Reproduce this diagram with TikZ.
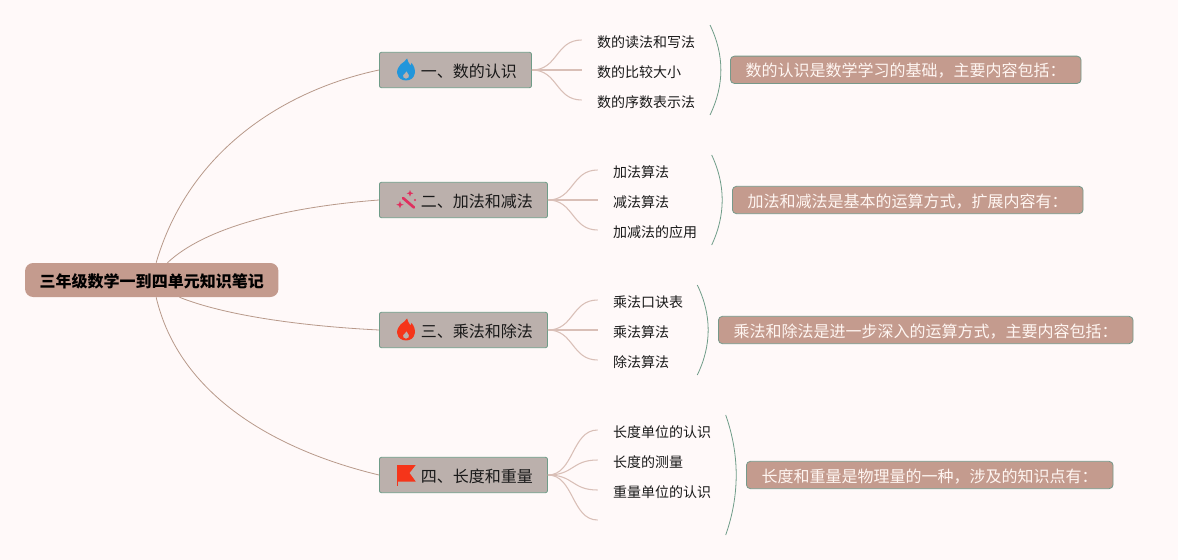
\documentclass[tikz,border=0pt]{standalone}
\usepackage{fontspec}
\setmainfont{Noto Sans CJK SC}
\definecolor{bgc}{HTML}{FFF9F9}
\definecolor{rootc}{HTML}{C49B8E}
\definecolor{topicc}{HTML}{BBB0AC}
\definecolor{edgec}{HTML}{6F9C88}
\definecolor{mainl}{HTML}{B8998A}
\definecolor{subl}{HTML}{D9BFB7}
\definecolor{calloutb}{HTML}{76998A}
\definecolor{calloutt}{HTML}{FFF6F2}
\definecolor{iconblue}{HTML}{2196DB}
\definecolor{iconred}{HTML}{F5351A}
\definecolor{iconpink}{HTML}{E0305F}
\newcommand{\topictext}[1]{\hspace*{31.1pt}#1\hspace*{11pt}}
\tikzset{
  rootnode/.style={fill=rootc,rounded corners=6pt,minimum width=190pt,minimum height=25.5pt,inner sep=0pt,text height=11pt,text depth=0.4pt,font=\fontsize{12}{14}\selectfont\bfseries},
  topic/.style={fill=topicc,draw=edgec,line width=0.6pt,rounded corners=1.5pt,anchor=west,minimum height=26.5pt,inner xsep=0pt,inner ysep=0pt,text height=11pt,text depth=0.4pt,font=\fontsize{12}{14}\selectfont,text=black!90},
  child/.style={anchor=west,inner xsep=11.5pt,inner ysep=0pt,text height=11.5pt,text depth=0.5pt,font=\fontsize{10.5}{12}\selectfont,text=black!90},
  callout/.style={fill=rootc,draw=calloutb,line width=0.6pt,rounded corners=3pt,anchor=west,minimum height=20.5pt,inner sep=0pt,text height=11pt,text depth=0.4pt,font=\fontsize{12}{14}\selectfont,text=calloutt},
  mainline/.style={draw=mainl,line width=0.6pt},
  subline/.style={draw=subl,line width=0.8pt},
  bracket/.style={draw=edgec,line width=0.6pt},
  flameicon/.pic={
    \fill[pic actions,even odd rule,scale=1.1]
      (1,-10.5) .. controls (2,-8) and (2,-6.5) .. (3.5,-5)
      .. controls (4.3,-4.2) and (5,-4.5) .. (5,-6.5)
      .. controls (7.5,-3.5) and (8.5,0) .. (8,3)
      .. controls (7.2,7.5) and (4,9.5) .. (0,9.5)
      .. controls (-4,9.5) and (-7.3,7.5) .. (-8,3)
      .. controls (-8.5,-0.5) and (-6.5,-3) .. (-5,-5)
      .. controls (-3,-7) and (0,-8) .. (1,-10.5) -- cycle
      (0.5,1) .. controls (1,2.5) and (2,3.5) .. (2.6,4.5)
      .. controls (3.4,6) and (2.2,8) .. (0,8)
      .. controls (-2.2,8) and (-3.4,6) .. (-2.6,4.5)
      .. controls (-2,3.2) and (0,2.8) .. (0.5,1) -- cycle;
  },
}
\begin{document}
\begin{tikzpicture}[x=0.75pt,y=-0.75pt]
\useasboundingbox (0,0) rectangle (1178,560);
\fill[bgc] (0,0) rectangle (1178,560);

% root
\node[rootnode] (root) at (151.75,280) {三年级数学一到四单元知识笔记};

% topics
\node[topic] (t1) at (379,70) {\topictext{一、数的认识}};
\node[topic] (t2) at (379,200) {\topictext{二、加法和减法}};
\node[topic] (t3) at (379,330) {\topictext{三、乘法和除法}};
\node[topic] (t4) at (379,475) {\topictext{四、长度和重量}};

% children
\node[child] (c11) at (581.6,40) {数的读法和写法};
\node[child] (c12) at (581.6,70) {数的比较大小};
\node[child] (c13) at (581.6,100) {数的序数表示法};
\node[child] (c21) at (597.6,170) {加法算法};
\node[child] (c22) at (597.6,200) {减法算法};
\node[child] (c23) at (597.6,230) {加减法的应用};
\node[child] (c31) at (597.6,300) {乘法口诀表};
\node[child] (c32) at (597.6,330) {乘法算法};
\node[child] (c33) at (597.6,360) {除法算法};
\node[child] (c41) at (597.6,430) {长度单位的认识};
\node[child] (c42) at (597.6,460) {长度的测量};
\node[child] (c43) at (597.6,490) {重量单位的认识};
\coordinate (c44) at (597.6,520);

% callouts
\node[callout,minimum width=263pt] (n1) at (730,69.8) {数的认识是数学学习的基础，主要内容包括：};
\node[callout,minimum width=263pt] (n2) at (732,200) {加法和减法是基本的运算方式，扩展内容有：};
\node[callout,minimum width=311pt] (n3) at (718,330) {乘法和除法是进一步深入的运算方式，主要内容包括：};
\node[callout,minimum width=275pt] (n4) at (746,475) {长度和重量是物理量的一种，涉及的知识点有：};

% main connectors
\draw[mainline] ([xshift=98.5pt]root.north west) .. controls +(33,-113) and +(-94,20) .. (t1.west);
\draw[mainline] ([xshift=107pt]root.north west) .. controls +(37,-35) and +(-94,7) .. (t2.west);
\draw[mainline] ([xshift=116pt]root.south west) .. controls +(45,18) and +(-79,-4) .. (t3.west);
\draw[mainline] ([xshift=98.5pt]root.south west) .. controls +(23,98) and +(-104,-25) .. (t4.west);

% sub connectors
\foreach \t/\c in {t1/c11,t1/c13,t2/c21,t2/c23,t3/c31,t3/c33,t4/c41,t4/c42,t4/c43}{
  \draw[subline] (\t.east) .. controls ++(26,0) and ++(-26,0) .. (\c.west);
}
\draw[subline] (t1.east) -- (c12.west);
\draw[subline] (t2.east) -- (c22.west);
\draw[subline] (t3.east) -- (c32.west);
\draw[subline] (t4.east) .. controls ++(26,0) and ++(-26,0) .. (c44);

% brackets
\coordinate (b1a) at (710,25); \coordinate (b1b) at (710,115);
\coordinate (b2a) at (711.7,155); \coordinate (b2b) at (711.7,245);
\coordinate (b3a) at (697.3,285); \coordinate (b3b) at (697.3,375);
\coordinate (b4a) at (725.7,415); \coordinate (b4b) at (725.7,535);
\draw[bracket] (b1a) .. controls +(14.5,30) and +(14.5,-30) .. (b1b);
\draw[bracket] (b2a) .. controls +(14,30) and +(14,-30) .. (b2b);
\draw[bracket] (b3a) .. controls +(14.5,30) and +(14.5,-30) .. (b3b);
\draw[bracket] (b4a) .. controls +(14,40) and +(14,-40) .. (b4b);

% icons
\pic[fill=iconblue] at (406,70) {flameicon};
\pic[fill=iconred] at (406,330) {flameicon};
% wand
\draw[iconpink,line width=2pt,line cap=round] (403,198) -- (414,207.5);
\fill[iconpink] (400,201) -- (401,203.7) -- (403.7,204.7) -- (401,205.7) -- (400,208.4) -- (399,205.7) -- (396.3,204.7) -- (399,203.7) -- cycle;
\fill[iconpink] (410,190) -- (410.9,192.4) -- (413.3,193.3) -- (410.9,194.2) -- (410,196.6) -- (409.1,194.2) -- (406.7,193.3) -- (409.1,192.4) -- cycle;
\fill[iconpink] (415,200) circle (1.1);
% flag
\fill[iconred] (396.8,465) rectangle (398.4,486);
\fill[iconred] (397,465) -- (415.7,465) -- (409.5,473) -- (415.7,481.5) -- (397,481.5) -- cycle;
\end{tikzpicture}
\end{document}
